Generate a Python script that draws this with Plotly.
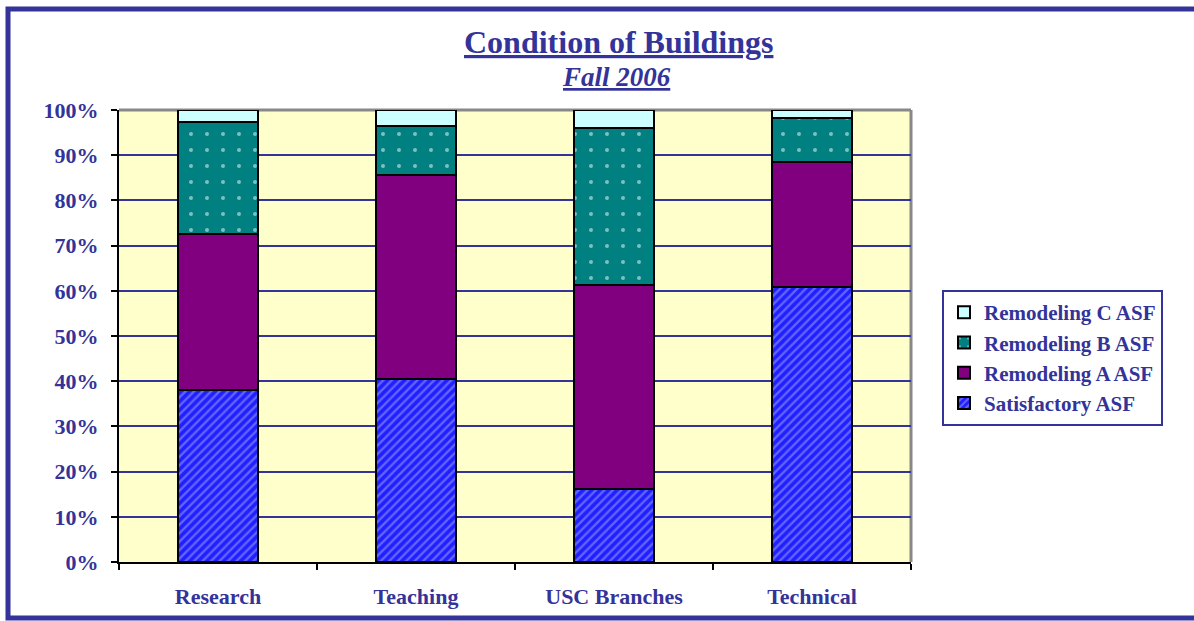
import plotly.graph_objects as go

categories = ["Research", "Teaching", "USC Branches", "Technical"]
satisfactory = [0.380, 0.405, 0.162, 0.608]
remodeling_a = [0.346, 0.451, 0.451, 0.277]
remodeling_b = [0.247, 0.109, 0.347, 0.097]
remodeling_c = [0.027, 0.035, 0.040, 0.018]

NAVY = "#333399"
FONT = "Liberation Serif, Times New Roman, serif"

fig = go.Figure()
fig.add_bar(name="Satisfactory ASF", x=categories, y=satisfactory, legendgroup="s", legendrank=4,
            marker=dict(color="#1F1FFF", line=dict(color="black", width=2),
                        pattern=dict(shape="/", fgcolor="#A8A8FF", size=6, solidity=0.4)))
fig.add_bar(name="Remodeling A ASF", x=categories, y=remodeling_a, legendgroup="a", legendrank=3,
            marker=dict(color="#800080", line=dict(color="black", width=2)))
fig.add_bar(name="Remodeling B ASF", x=categories, y=remodeling_b, legendgroup="b", legendrank=2,
            marker=dict(color="#008080", line=dict(color="black", width=2),
                        pattern=dict(shape=".", fgcolor="#FFFFFF", size=16, solidity=0.05)))
fig.add_bar(name="Remodeling C ASF", x=categories, y=remodeling_c, legendgroup="c", legendrank=1,
            marker=dict(color="#CCFFFF", line=dict(color="black", width=2)))

L, R, T, B = 119, 911, 110, 562
W, H = R - L, B - T

def px(x):
    return (x - L) / W

def py(y):
    return (B - y) / H

fig.update_layout(
    width=1194, height=621,
    barmode="stack", bargap=0.6,
    paper_bgcolor="white", plot_bgcolor="#FFFFCC",
    margin=dict(l=L, r=1194 - R, t=T, b=621 - B),
    font=dict(family=FONT, color=NAVY),
    showlegend=True,
    legend=dict(traceorder="grouped", tracegroupgap=0,
                x=px(942), y=py(290), xanchor="left", yanchor="top",
                bgcolor="white", bordercolor=NAVY, borderwidth=2,
                font=dict(family=FONT, size=21, color=NAVY, weight="bold"),
                itemwidth=30),
    xaxis=dict(showline=True, linecolor="black", linewidth=2, ticks="outside",
               tickson="boundaries", ticklen=6, tickcolor="black", tickwidth=2,
               ticklabelstandoff=14,
               tickfont=dict(family=FONT, size=22, color=NAVY, weight="bold"),
               showgrid=False),
    yaxis=dict(range=[0, 1], dtick=0.1, tickformat=".0%", showline=True, linecolor="black",
               linewidth=2, ticks="outside", ticklen=6, tickcolor="black", tickwidth=2,
               ticklabelstandoff=8,
               showgrid=True, gridcolor=NAVY, gridwidth=1.5, zeroline=False,
               tickfont=dict(family=FONT, size=22, color=NAVY, weight="bold")),
    shapes=[
        dict(type="line", xref="paper", yref="paper", x0=0, x1=1, y0=1, y1=1,
             line=dict(color="#888888", width=3), layer="below"),
        dict(type="line", xref="paper", yref="paper", x0=1, x1=1, y0=0, y1=1,
             line=dict(color="#888888", width=3), layer="below"),
        dict(type="rect", xref="paper", yref="paper", x0=px(8), x1=px(1200),
             y0=py(618), y1=py(9), line=dict(color=NAVY, width=5), fillcolor="rgba(0,0,0,0)"),
    ],
    annotations=[
        dict(text="<b><u>Condition of Buildings</u></b>", xref="paper", yref="paper",
             x=px(618), y=py(42), xanchor="center", yanchor="middle", showarrow=False,
             font=dict(family=FONT, size=32, color=NAVY)),
        dict(text="<b><i><u>Fall 2006</u></i></b>", xref="paper", yref="paper",
             x=px(616), y=py(77), xanchor="center", yanchor="middle", showarrow=False,
             font=dict(family=FONT, size=27, color=NAVY)),
    ],
)

fig.write_html("out.html", config={"displayModeBar": False},
               post_script="document.body.style.margin='0';document.body.style.overflow='hidden';")
